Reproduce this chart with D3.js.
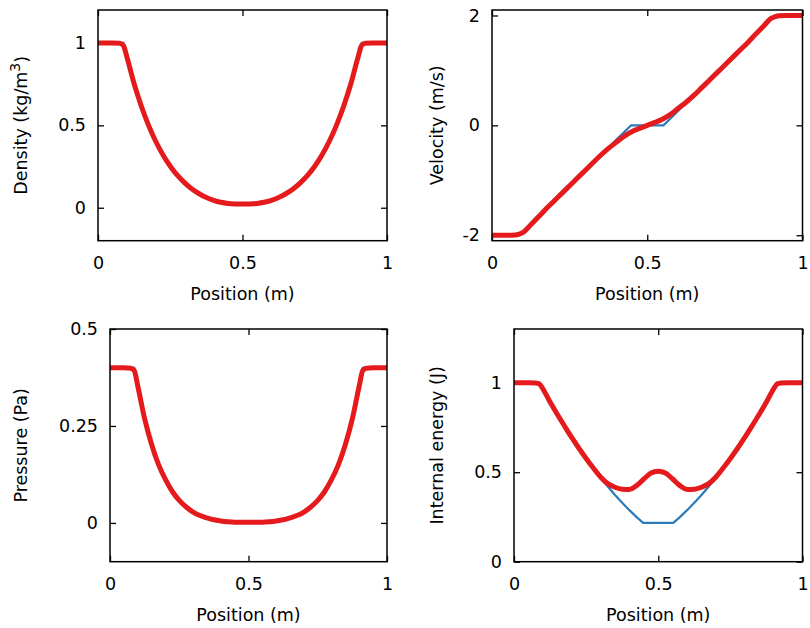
<!DOCTYPE html>
<html lang="en">
<head>
<meta charset="UTF-8">
<title>Double rarefaction test</title>
<script src="https://d3js.org/d3.v7.min.js"></script>
<style>
  body { margin: 0; background: #fff; }
  svg { display: block; font-family: "DejaVu Sans", sans-serif; }
</style>
</head>
<body>
<script>
// exact solution (blue)
const exactX = [0, 0.0878, 0.1, 0.125, 0.15, 0.175, 0.2, 0.225, 0.25, 0.275, 0.3, 0.325, 0.35, 0.375, 0.4, 0.425, 0.4478,
                0.5522, 0.575, 0.6, 0.625, 0.65, 0.675, 0.7, 0.725, 0.75, 0.775, 0.8, 0.825, 0.85, 0.875, 0.9, 0.9122, 1];
const exactDensity = [1, 1, 0.912, 0.752, 0.616, 0.500, 0.402, 0.320, 0.252, 0.196, 0.151, 0.114, 0.085, 0.062, 0.044, 0.031, 0.022,
                      0.022, 0.031, 0.044, 0.062, 0.085, 0.114, 0.151, 0.196, 0.252, 0.320, 0.402, 0.500, 0.616, 0.752, 0.912, 1, 1];
const exactVelocity = [-2, -2, -1.932, -1.793, -1.654, -1.515, -1.376, -1.238, -1.099, -0.960, -0.821, -0.682, -0.543, -0.404, -0.265, -0.126, 0,
                       0, 0.126, 0.265, 0.404, 0.543, 0.682, 0.821, 0.960, 1.099, 1.238, 1.376, 1.515, 1.654, 1.793, 1.932, 2, 2];
const exactPressure = [0.4, 0.4, 0.352, 0.269, 0.203, 0.151, 0.112, 0.081, 0.058, 0.041, 0.028, 0.019, 0.013, 0.008, 0.005, 0.003, 0.002,
                       0.002, 0.003, 0.005, 0.008, 0.013, 0.019, 0.028, 0.041, 0.058, 0.081, 0.112, 0.151, 0.203, 0.269, 0.352, 0.4, 0.4];
const exactEnergy = [1, 1, 0.964, 0.892, 0.824, 0.758, 0.694, 0.634, 0.576, 0.521, 0.469, 0.420, 0.373, 0.329, 0.288, 0.249, 0.217,
                     0.217, 0.249, 0.288, 0.329, 0.373, 0.420, 0.469, 0.521, 0.576, 0.634, 0.694, 0.758, 0.824, 0.892, 0.964, 1, 1];

// numerical solution (red)
const numX = [0, 0.025, 0.05, 0.075, 0.0875, 0.1, 0.125, 0.15, 0.175, 0.2, 0.225, 0.25, 0.275, 0.3, 0.325, 0.35, 0.375, 0.4, 0.425, 0.45, 0.475,
              0.5, 0.525, 0.55, 0.575, 0.6, 0.625, 0.65, 0.675, 0.7, 0.725, 0.75, 0.775, 0.8, 0.825, 0.85, 0.875, 0.9, 0.9125, 0.925, 0.95, 0.975, 1];
const numDensity = [1, 1, 1, 0.998, 0.985, 0.915, 0.752, 0.616, 0.500, 0.402, 0.320, 0.252, 0.196, 0.151, 0.114, 0.085, 0.062, 0.045, 0.033, 0.026, 0.023,
                    0.022, 0.023, 0.026, 0.033, 0.045, 0.062, 0.085, 0.114, 0.151, 0.196, 0.252, 0.320, 0.402, 0.500, 0.616, 0.752, 0.915, 0.985, 0.998, 1, 1, 1];
const numVelocity = [-2, -2, -2, -1.995, -1.98, -1.95, -1.81, -1.665, -1.515, -1.376, -1.238, -1.099, -0.960, -0.821, -0.682, -0.545, -0.42, -0.31, -0.20, -0.115, -0.055,
                     0, 0.055, 0.115, 0.20, 0.31, 0.42, 0.545, 0.682, 0.821, 0.960, 1.099, 1.238, 1.376, 1.515, 1.665, 1.81, 1.95, 1.98, 1.995, 2, 2, 2];
const numPressure = [0.4, 0.4, 0.4, 0.399, 0.393, 0.354, 0.269, 0.203, 0.151, 0.112, 0.081, 0.058, 0.041, 0.028, 0.019, 0.013, 0.008, 0.005, 0.003, 0.002, 0.002,
                     0.002, 0.002, 0.002, 0.003, 0.005, 0.008, 0.013, 0.019, 0.028, 0.041, 0.058, 0.081, 0.112, 0.151, 0.203, 0.269, 0.354, 0.393, 0.399, 0.4, 0.4, 0.4];
const numEnergy = [1, 1, 1, 0.999, 0.993, 0.966, 0.892, 0.824, 0.758, 0.694, 0.634, 0.577, 0.523, 0.473, 0.436, 0.416, 0.405, 0.404, 0.425, 0.462, 0.495,
                   0.505, 0.495, 0.462, 0.425, 0.404, 0.405, 0.416, 0.436, 0.473, 0.523, 0.577, 0.634, 0.694, 0.758, 0.824, 0.892, 0.966, 0.993, 0.999, 1, 1, 1];

const xTicks = [0, 0.5, 1];
const densityTicks = [0, 0.5, 1];
const velocityTicks = [-2, 0, 2];
const pressureTicks = [0, 0.25, 0.5];
const energyTicks = [0, 0.5, 1];

const w = 810, h = 628;
const blue = "#2b7bba", red = "#e41a1c";
const fontSize = "17.5px";

const svg = d3.select("body").append("svg")
    .attr("width", w)
    .attr("height", h);

const panels = [
    {left: 98, right: 387, top: 10, bottom: 240.7, yDomain: [-0.2, 1.2], yTicks: densityTicks,
     label: "Density (kg/m", sup: "3", labelX: 20.5, exact: exactDensity, num: numDensity},
    {left: 492, right: 802.5, top: 10, bottom: 240.7, yDomain: [-2.1, 2.1], yTicks: velocityTicks,
     label: "Velocity (m/s)", labelX: 437, exact: exactVelocity, num: numVelocity},
    {left: 110, right: 387, top: 329, bottom: 561.7, yDomain: [-0.1, 0.5], yTicks: pressureTicks,
     label: "Pressure (Pa)", labelX: 20.5, exact: exactPressure, num: numPressure},
    {left: 514, right: 802.5, top: 329, bottom: 561.7, yDomain: [0, 1.3], yTicks: energyTicks,
     label: "Internal energy (J)", labelX: 437, exact: exactEnergy, num: numEnergy}
];

panels.forEach(function(p) {
    const x = d3.scaleLinear().domain([0, 1]).range([p.left, p.right]);
    const y = d3.scaleLinear().domain(p.yDomain).range([p.bottom, p.top]);
    const g = svg.append("g");

    // ticks, gnuplot style: inward on all four sides
    const axes = [
        {axis: d3.axisBottom(x).tickValues(xTicks).tickPadding(16), tr: [0, p.bottom]},
        {axis: d3.axisTop(x).tickValues(xTicks).tickFormat(""), tr: [0, p.top]},
        {axis: d3.axisLeft(y).tickValues(p.yTicks).tickPadding(12), tr: [p.left, 0]},
        {axis: d3.axisRight(y).tickValues(p.yTicks).tickFormat(""), tr: [p.right, 0]}
    ];
    axes.forEach(function(a) {
        if (a.axis.tickFormat() === null) a.axis.tickFormat(d => String(d));
        const ag = g.append("g")
            .attr("transform", "translate(" + a.tr[0] + "," + a.tr[1] + ")")
            .call(a.axis.tickSizeInner(-6).tickSizeOuter(0));
        ag.select(".domain").remove();
        ag.selectAll("line").attr("stroke", "#000").attr("stroke-width", 1.3);
        ag.selectAll("text")
            .attr("fill", "#000")
            .style("font-family", "'DejaVu Sans', sans-serif")
            .style("font-size", fontSize);
    });

    const lineExact = d3.line()
        .x((d, i) => x(exactX[i]))
        .y(d => y(d));
    const lineNum = d3.line()
        .x((d, i) => x(numX[i]))
        .y(d => y(d))
        .curve(d3.curveMonotoneX);

    g.append("path")
        .attr("d", lineExact(p.exact))
        .attr("fill", "none")
        .attr("stroke", blue)
        .attr("stroke-width", 2.2);

    g.append("path")
        .attr("d", lineNum(p.num))
        .attr("fill", "none")
        .attr("stroke", red)
        .attr("stroke-width", 5)
        .attr("stroke-linejoin", "round");

    g.append("rect")
        .attr("x", p.left)
        .attr("y", p.top)
        .attr("width", p.right - p.left)
        .attr("height", p.bottom - p.top)
        .attr("fill", "none")
        .attr("stroke", "#000")
        .attr("stroke-width", 1.5);

    g.append("text")
        .attr("x", (p.left + p.right) / 2)
        .attr("y", p.bottom + 59)
        .attr("text-anchor", "middle")
        .style("font-size", fontSize)
        .text("Position (m)");

    const yl = g.append("text")
        .attr("transform", "translate(" + p.labelX + "," + (p.top + p.bottom) / 2 + ") rotate(-90)")
        .attr("text-anchor", "middle")
        .attr("dy", "0.35em")
        .style("font-size", fontSize);
    yl.append("tspan").text(p.label);
    if (p.sup) {
        yl.append("tspan").attr("dy", "-0.5em").style("font-size", "14px").text(p.sup);
        yl.append("tspan").attr("dy", "0.5em").text(")");
    }
});
</script>
</body>
</html>
